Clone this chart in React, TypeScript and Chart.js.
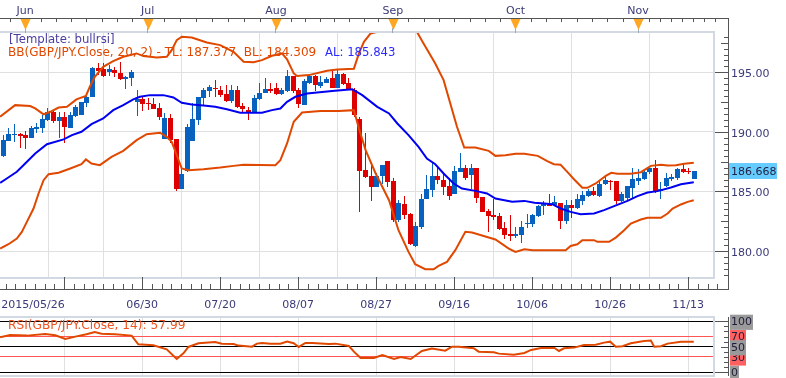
import React, { useEffect, useRef } from "react";
import { Chart, registerables } from "chart.js";

Chart.register(...registerables);

const opens = [187.97,189.25,189.73,189.79,189.73,189.48,190.26,190.29,190.99,191.69,
190.93,191.27,190.37,191.33,191.41,192.45,192.95,195.33,195.25,195.05,
195.19,194.97,194.46,194.55,192.53,192.75,192.45,192.33,192.03,189.42,
191.16,189.39,185.25,186.73,189.25,190.99,192.81,193.45,193.73,193.51,
193.17,192.59,193.51,192.17,191.83,191.61,192.78,193.29,193.59,193.65,
193.17,193.45,194.69,193.51,192.28,194.15,194.69,193.85,194.13,194.49,
193.71,194.85,194.07,193.51,191.05,186.79,186.29,185.39,186.29,187.52,
185.87,182.59,183.99,183.09,180.41,182.03,184.41,185.11,186.29,185.95,
185.45,184.83,186.65,186.93,186.37,186.93,184.55,183.37,183.01,182.93,
181.92,181.41,181.27,181.33,182.25,182.25,182.95,183.77,183.99,183.85,
184.07,182.53,183.85,183.60,184.21,184.61,185.03,184.61,185.61,185.92,
185.87,184.21,184.49,185.33,185.89,186.03,186.65,186.99,185.05,185.47,
186.01,186.15,186.87,186.73,186.03];
const closes = [189.31,189.81,189.81,189.67,189.51,190.29,190.40,191.05,191.69,190.93,
191.27,190.43,191.41,192.11,192.50,192.95,195.36,195.11,194.69,195.25,
194.91,194.46,194.63,195.02,192.75,192.33,192.31,191.91,191.27,191.19,
189.31,185.25,186.45,190.43,191.07,192.92,193.51,193.79,193.57,193.09,
192.59,193.51,192.11,191.94,191.55,192.84,193.31,193.59,193.45,193.20,
193.48,194.69,193.45,192.33,194.27,194.69,193.90,194.18,194.43,193.71,
194.85,194.01,193.57,191.41,186.73,186.23,185.39,186.29,187.21,185.81,
182.59,184.05,183.04,180.55,182.09,184.41,185.19,186.29,185.95,185.39,
184.63,186.71,186.99,186.09,186.93,184.47,183.29,182.95,182.87,181.81,
181.33,181.27,181.41,182.03,182.39,183.01,183.77,183.91,183.77,184.13,
182.53,183.85,183.60,184.33,184.69,185.03,184.69,185.67,185.95,185.84,
184.21,184.77,185.45,186.03,186.09,186.65,186.93,184.97,185.25,186.09,
186.23,186.87,186.65,186.67,186.71];
const highs = [189.73,190.37,190.65,189.87,190.09,190.49,190.77,191.41,191.97,191.83,
191.69,191.69,191.69,192.25,192.50,193.09,195.47,195.81,195.75,195.61,
195.47,195.86,194.69,195.19,193.51,192.95,192.81,192.87,192.45,191.55,
191.49,189.39,186.93,190.65,192.39,192.92,193.65,193.93,194.35,193.85,
193.93,193.93,193.85,192.39,192.11,193.12,194.07,194.52,194.13,194.13,
193.73,195.19,194.69,193.65,194.46,194.77,194.77,194.69,194.57,195.13,
195.19,194.91,194.49,193.65,191.27,189.87,187.49,186.51,187.21,187.52,
186.09,184.27,184.61,183.23,182.42,184.83,186.37,187.35,186.93,186.51,
186.09,187.15,188.19,187.21,187.29,186.93,184.55,183.57,184.41,183.23,
182.45,183.01,182.03,182.53,183.15,183.15,183.85,184.21,184.77,184.61,
184.07,184.27,184.27,184.77,185.03,185.25,185.39,185.87,186.23,185.95,
185.87,184.97,185.47,186.93,186.87,186.79,187.01,187.63,185.81,186.57,
186.45,186.93,187.41,186.93,186.71];
const lows = [187.91,189.25,189.17,188.69,188.55,189.45,189.87,189.87,190.93,190.77,
189.53,189.03,190.37,191.27,191.41,192.11,192.95,194.77,194.63,194.69,
194.57,194.35,193.57,193.85,191.33,191.77,191.83,191.91,190.99,189.37,
189.03,185.05,185.17,186.65,189.25,190.57,192.17,192.95,192.95,192.95,
192.53,192.39,192.05,191.55,190.99,191.61,192.67,193.23,193.29,193.09,
193.09,193.37,193.23,192.05,192.28,194.01,193.45,193.73,194.07,193.65,
193.65,193.93,193.51,191.27,183.29,186.17,184.21,185.39,185.67,185.39,
182.45,182.45,182.65,180.49,180.35,181.83,184.41,184.55,185.67,184.69,
184.27,184.83,186.65,185.95,185.25,184.01,183.29,181.61,182.59,181.75,
180.97,180.83,181.13,180.69,181.95,182.03,182.87,183.01,183.77,183.77,
181.83,182.31,182.79,183.57,183.85,184.55,184.61,184.55,185.53,185.11,
183.93,184.13,184.27,184.41,185.53,185.95,186.45,184.89,184.33,185.39,
185.87,185.95,186.57,186.45,186.03];

const upperIdx = [-0.5,2.2,4.9,5.8,7.3,8.5,10,11.5,13.2,14.9,15.6,16.5,18,19.8,21.6,24,25.2,27.6,29.4,30.3,31.2,32.1,33.9,36.6,39,41.4,43.2,45,46.5,48.3,50.1,51,52.2,52.8,54.9,58.2,60,63,63.9,64.8,66,67.2,69,72,74.3,75.5,77.6,79.1,80.3,81.5,82.8,84.8,87.2,88.4,90.2,92,93.6,96,97.7,98.9,100.1,101.3,102.5,104,104.9,106.4,108.2,109.2,110.3,112.7,114.5,116.3,118.1,119.3,120.8,122.3,124];
const upperVal = [191.27,192.25,192.17,191.97,191.47,191.69,192.05,192.11,192.73,193.03,193.79,194.63,195.47,195.95,196.31,196.59,196.37,196.25,196.31,196.87,197.71,197.99,197.93,197.51,197.29,196.73,195.89,195.86,196.03,196.39,196.59,196.09,194.91,194.69,194.77,195.13,195.25,195.31,196.59,197.57,198.27,198.41,199.3,199.6,198.41,197.43,195.75,194.35,192.39,190.43,188.69,188.69,188.41,187.99,188.05,188.17,188.17,187.99,187.55,187.29,187.24,186.65,186.03,185.31,185.31,185.67,186.31,186.57,186.48,186.48,186.62,187.15,187.24,187.18,187.21,187.32,187.41];

const averageIdx = [-0.5,0.7,2.5,4,5.8,7.9,10.9,12.4,14.1,15.9,18,19.8,21.6,23.4,24.6,26.4,28.8,30.6,32.1,33.9,36,38.1,40.2,42.6,46.5,48.3,49.8,51,52.5,54.6,59.1,62.7,64.5,67.2,69.3,70.8,72.8,74.6,76.1,77.6,79.1,80.9,82.4,84.8,86.9,88.4,91.4,93.6,95.4,97.2,98.6,100.1,101.9,103.7,106.1,107.9,109.7,112.1,113.9,115.7,117.5,119.9,121.7,124];
const averageVal = [185.73,186.09,186.65,187.35,188.19,188.97,189.37,189.73,190.01,190.65,191.13,191.83,192.25,192.73,192.95,193.09,193.09,192.89,192.45,192.31,192.22,192.11,191.91,191.61,191.61,191.83,191.97,192.53,192.95,193.23,193.43,193.59,193.09,192.11,191.55,190.71,189.73,188.75,187.77,187.29,186.51,185.67,185.25,185.05,184.83,184.41,184.13,184.21,184.05,183.99,183.93,183.57,183.29,183.09,183.15,183.43,183.77,184.21,184.61,184.91,185.03,185.33,185.61,185.78];

const lowerIdx = [-0.5,1,2.5,3.4,4.3,5.5,6.4,7.3,8.2,10,12.1,14.1,14.9,15.9,17.4,19.5,21.6,24,25.8,28.2,29.4,30.3,31.2,32.1,33.3,36,39,41.4,43.2,48.9,49.8,51,52.2,53.7,57,60.3,63,63.9,65.1,66.9,68.7,69.3,71,72.8,74,75.8,77.3,78.2,79.7,81.2,83,84.2,87.2,88.4,90.8,92,93.6,95.1,101,101.9,103.1,104,106.1,106.7,108.8,110,111.5,112.7,114.5,115.7,118.1,119.3,120.2,121.7,122.9,124];
const lowerVal = [180.21,180.57,181.05,181.61,182.45,183.57,184.83,185.95,186.45,186.57,186.93,187.29,187.69,187.35,187.21,187.91,188.41,189.31,189.81,189.93,189.59,189.17,188.05,186.93,186.79,186.87,187.01,187.15,187.24,187.21,187.63,189.03,190.85,191.63,191.75,191.75,191.83,190.29,188.47,186.51,184.83,184.27,181.75,179.93,178.89,178.47,178.47,178.75,179.09,180.07,181.61,181.55,181.13,180.97,180.21,179.93,180.15,180.07,180.07,180.43,180.57,180.91,180.91,180.77,180.77,181.13,181.75,182.31,182.65,182.79,182.79,183.15,183.57,183.91,184.13,184.27];

const rsiIdx = [-0.5,1.3,4.3,7.6,9.4,11.2,13,15,16.5,17.7,20.1,23.1,24.3,27,29.4,31.2,32.4,33.3,35.1,38.1,39.3,41.4,42.3,44.7,45.6,46.5,48,49.8,51,52.2,53.1,54.3,55.5,58.5,59.7,62.1,63,64.2,66.6,68.1,70.2,71.4,73.2,75.2,77,79.4,80.6,81.8,84.5,85.4,88.1,89,91.7,93.6,94.8,96.6,99,99.8,100.7,102.5,104.3,106.4,107.9,109,110,111.2,112.7,115.1,116.3,116.9,118.1,119.3,121.7,124];
const rsiVal = [68.6,73.2,71.9,75.2,72.5,65.4,69.9,74.5,79.1,75.8,74.5,71.9,54.9,52.9,45.1,26.1,37.3,49.7,56.9,59.5,56.2,55.6,52.3,50.3,56.2,57.5,56.2,56.2,60.1,56.9,49.7,57.5,57.5,55.6,56.2,51.6,40.5,28.1,28.1,34,26.1,30.1,26.1,41.8,46.4,42.5,50.3,50.3,47.1,40.5,39.2,36.6,34.6,37.9,43.8,47.7,47.7,41.8,47.1,48.4,53.6,54.2,58.2,60.1,50.3,51,56.9,61.4,62.1,50.3,51,56.2,60.1,60.1];

const monthLabels = ["Jun", "Jul", "Aug", "Sep", "Oct", "Nov"];
const monthIdx = [4, 26, 49, 70, 92, 114];
const dateLabels = ["2015/05/26", "06/30", "07/20", "08/07", "08/27", "09/16", "10/06", "10/26", "11/13"];
const dateLabelIdx = [5.4, 25, 39, 53, 67, 81, 95, 109, 123];
const gridIdx = [11, 25, 39, 53, 67, 81, 95, 109, 123];
const priceTicks = [180, 185, 190, 195];
const rsiTicks = [0, 30, 70, 50, 100];
const templateLabel = "[Template: bullrsi]";
const bbLabel = "BB(GBP/JPY.Close, 20, 2) - TL: 187.377  BL: 184.309";
const alLabel = "AL: 185.843";
const rsiLabel = "RSI(GBP/JPY.Close, 14): 57.99";
const lastPrice = "186.668";

const FONT = '"DejaVu Sans"';
const TEXT = "#3A3A78";
const AXIS = "#555555";
const BORDER = "#D2D9E2";
const GRID = "#E0E0E0";
const ORANGE = "#E04800";
const X_MIN = -0.52;
const X_MAX = 127.63;

const xy = (idx: number[], val: number[]) => idx.map((x, i) => ({ x, y: val[i] }));

const noPad = (s: any) => {
  s.paddingLeft = 0;
  s.paddingRight = 0;
  s.paddingTop = 0;
  s.paddingBottom = 0;
};

const snapBars = {
  id: "snapBars",
  afterDatasetsUpdate(chart: any) {
    chart.data.datasets.forEach((d: any, i: number) => {
      if (d.type === "line") return;
      chart.getDatasetMeta(i).data.forEach((el: any) => {
        el.x = Math.round(el.x) + 0.5;
        const a = Math.round(Math.min(el.y, el.base));
        const b = Math.round(Math.max(el.y, el.base));
        el.y = a;
        el.base = b > a ? b : a + 1;
      });
    });
  },
};

const rect = (ctx: any, x: number, y: number, w: number, h: number, c: string) => {
  ctx.fillStyle = c;
  ctx.fillRect(x, y, w, h);
};

const mainFrame = {
  id: "mainFrame",
  afterDraw(chart: any) {
    const { ctx, scales } = chart;
    const x = scales.x;
    const y = scales.y;
    ctx.save();
    rect(ctx, 0, 31, 715, 2, BORDER);
    rect(ctx, 0, 277, 715, 2, BORDER);
    rect(ctx, 713, 31, 2, 248, BORDER);
    rect(ctx, 0, 18, 729, 1, AXIS);
    rect(ctx, 0, 289, 729, 1, AXIS);
    rect(ctx, 728, 18, 1, 272, AXIS);

    // top axis: eight divisions per month
    const monthPx = monthIdx.map((m) => x.getPixelForValue(m));
    const step = (monthPx[1] - monthPx[0]) / 8;
    const topTicks: number[] = [monthPx[0] - step];
    monthPx.forEach((p, i) => {
      const next = i + 1 < monthPx.length ? monthPx[i + 1] : p + 88;
      const s = (next - p) / 8;
      for (let k = 0; k < 8; k++) {
        const v = p + s * k;
        if (v < 726) topTicks.push(v);
      }
    });
    topTicks.forEach((p) => rect(ctx, Math.round(p), 19, 1, 3, AXIS));

    // month arrows
    monthPx.forEach((p) => {
      const c = Math.round(p) + 0.5;
      rect(ctx, Math.floor(p), 28, 1, 5, "#9AA8B8");
      ctx.fillStyle = "#FFA622";
      ctx.beginPath();
      ctx.moveTo(c - 5, 19);
      ctx.lineTo(c + 5, 19);
      ctx.lineTo(c, 30);
      ctx.closePath();
      ctx.fill();
    });

    // bottom axis
    gridIdx.forEach((g) => {
      rect(ctx, Math.round(x.getPixelForValue(g)), 277, 1, 12, AXIS);
      for (let k = 1; k < 8; k++) {
        const v = g + 1.75 * k;
        if (v < 128.5) rect(ctx, Math.round(x.getPixelForValue(v)), 284, 1, 5, AXIS);
      }
    });
    for (let k = 1; k < 8; k++) {
      rect(ctx, Math.round(x.getPixelForValue(11 - 1.75 * k)), 284, 1, 5, AXIS);
    }

    // right axis: half units, medium at 2.5
    for (let t = 178; t <= 198; t += 0.5) {
      const py = Math.round(y.getPixelForValue(t));
      if (t % 5 === 0) rect(ctx, 715, py, 13, 1, AXIS);
      else if (t % 2.5 === 0) rect(ctx, 721, py, 7, 1, AXIS);
      else rect(ctx, 724, py, 4, 1, AXIS);
    }

    // current price
    const py = y.getPixelForValue(Number(lastPrice));
    rect(ctx, 729, Math.round(py) - 9, 48, 16, "#66CCFF");
    ctx.font = `11px ${FONT}`;
    ctx.textBaseline = "middle";
    ctx.textAlign = "left";
    ctx.fillStyle = "#222244";
    ctx.fillText(lastPrice, 731, Math.round(py) + 0);

    // legend
    ctx.textBaseline = "alphabetic";
    ctx.font = `11.7px ${FONT}`;
    ctx.fillStyle = "#4A3FA0";
    ctx.fillText(templateLabel, 9, 43);
    ctx.font = `12px ${FONT}`;
    ctx.fillStyle = ORANGE;
    ctx.fillText(bbLabel, 8, 56);
    ctx.fillStyle = "#2A2AFF";
    ctx.font = `11.7px ${FONT}`;
    ctx.fillText(alLabel, 325, 56);
    ctx.restore();
  },
};

const rsiFrame = {
  id: "rsiFrame",
  afterDraw(chart: any) {
    const { ctx, scales } = chart;
    const y = scales.y;
    const top = chart.chartArea.top;
    const bottom = chart.chartArea.bottom;
    ctx.save();
    rect(ctx, 0, top - 1, 715, 2, BORDER);
    rect(ctx, 0, bottom - 1, 715, 2, BORDER);
    rect(ctx, 713, top - 1, 2, bottom - top + 2, BORDER);
    rect(ctx, 728, top, 1, bottom - top, AXIS);
    for (let t = 0; t <= 100; t += 10) {
      const py = Math.round(y.getPixelForValue(t));
      if (t === 0 || t === 100) rect(ctx, 715, py, 13, 1, AXIS);
      else if (t === 50) rect(ctx, 721, py, 7, 1, AXIS);
      else rect(ctx, 724, py, 4, 1, AXIS);
    }
    ctx.font = `12.2px ${FONT}`;
    ctx.textBaseline = "alphabetic";
    ctx.textAlign = "left";
    ctx.fillStyle = "#EE5522";
    ctx.fillText(rsiLabel, 8, 16);
    ctx.restore();
  },
};

export default function App() {
  const mainRef = useRef<HTMLCanvasElement>(null);
  const rsiRef = useRef<HTMLCanvasElement>(null);

  useEffect(() => {
    const indices = opens.map((_, i) => i);
    const color = (i: number) => (closes[i] >= opens[i] ? "#0662BE" : "#DE0000");
    const barCommon = {
      type: "bar",
      grouped: false,
      borderWidth: 0,
      inflateAmount: 0,
      xAxisID: "x",
      yAxisID: "y",
    };
    const lineCommon = {
      type: "line",
      pointRadius: 0,
      tension: 0,
      fill: false,
      xAxisID: "x",
      yAxisID: "y",
    };
    const main = new Chart(mainRef.current as any, {
      type: "bar",
      plugins: [snapBars, mainFrame],
      data: {
        datasets: [
          { ...lineCommon, label: "AL", order: 0, data: xy(averageIdx, averageVal), borderColor: "#0000F0", borderWidth: 2 },
          { ...lineCommon, label: "TL", order: 0, data: xy(upperIdx, upperVal), borderColor: ORANGE, borderWidth: 2 },
          { ...lineCommon, label: "BL", order: 0, data: xy(lowerIdx, lowerVal), borderColor: ORANGE, borderWidth: 2 },
          {
            ...barCommon, label: "Body", order: 1, barThickness: 5,
            data: indices.map((i) => ({ x: i, y: [opens[i], closes[i]] })),
            backgroundColor: indices.map(color),
          },
          {
            ...barCommon, label: "Wick", order: 2, barThickness: 1,
            data: indices.map((i) => ({ x: i, y: [lows[i], highs[i]] })),
            backgroundColor: indices.map(color),
          },
        ] as any,
      },
      options: {
        responsive: false,
        animation: false,
        layout: { padding: 0 },
        plugins: { legend: { display: false }, tooltip: { enabled: false } },
        scales: {
          x: {
            type: "linear",
            position: "bottom",
            min: X_MIN,
            max: X_MAX,
            offset: false,
            afterBuildTicks: (s: any) => {
              s.ticks = [...dateLabelIdx, 11].sort((a, b) => a - b).map((value) => ({ value }));
            },
            afterFit: (s: any) => {
              s.height = 36;
              noPad(s);
            },
            border: { display: false },
            grid: {
              drawTicks: false,
              lineWidth: 1,
              color: (c: any) => (gridIdx.includes(c.tick?.value) ? GRID : "rgba(0,0,0,0)"),
            },
            ticks: {
              autoSkip: false,
              maxRotation: 0,
              minRotation: 0,
              padding: 22,
              color: TEXT,
              font: { family: FONT, size: 11 },
              callback: (v: any) => {
                const k = dateLabelIdx.indexOf(Number(v));
                return k >= 0 ? dateLabels[k] : "";
              },
            },
          },
          xTop: {
            type: "linear",
            position: "top",
            min: X_MIN,
            max: X_MAX,
            offset: false,
            afterBuildTicks: (s: any) => {
              s.ticks = monthIdx.map((value) => ({ value }));
            },
            afterFit: (s: any) => {
              s.height = 32;
              noPad(s);
            },
            border: { display: false },
            grid: { display: false, drawTicks: false },
            ticks: {
              autoSkip: false,
              maxRotation: 0,
              minRotation: 0,
              padding: 14,
              color: TEXT,
              font: { family: FONT, size: 11 },
              callback: (v: any) => monthLabels[monthIdx.indexOf(Number(v))] ?? "",
            },
          },
          y: {
            type: "linear",
            position: "right",
            min: 177.82,
            max: 198.39,
            afterBuildTicks: (s: any) => {
              s.ticks = priceTicks.map((value) => ({ value }));
            },
            afterFit: (s: any) => {
              s.width = 72;
              noPad(s);
            },
            border: { display: false },
            grid: { drawTicks: false, color: GRID, lineWidth: 1 },
            ticks: {
              autoSkip: false,
              padding: 17,
              labelOffset: 2,
              color: TEXT,
              font: { family: FONT, size: 11 },
              callback: (v: any) => Number(v).toFixed(2),
            },
          },
        },
      } as any,
    });

    const isLine70 = (v: number) => v === 70 || v === 30;
    const rsi = new Chart(rsiRef.current as any, {
      type: "line",
      plugins: [rsiFrame],
      data: {
        datasets: [
          {
            label: "RSI",
            data: xy(rsiIdx, rsiVal),
            borderColor: ORANGE,
            borderWidth: 2,
            pointRadius: 0,
            tension: 0,
            fill: false,
          },
        ] as any,
      },
      options: {
        responsive: false,
        animation: false,
        layout: { padding: { top: 4, bottom: 2 } },
        plugins: { legend: { display: false }, tooltip: { enabled: false } },
        scales: {
          x: {
            type: "linear",
            min: X_MIN,
            max: X_MAX,
            afterBuildTicks: (s: any) => {
              s.ticks = gridIdx.map((value) => ({ value }));
            },
            afterFit: (s: any) => {
              s.height = 0;
              noPad(s);
            },
            border: { display: false },
            grid: { drawTicks: false, color: GRID, lineWidth: 1 },
            ticks: { display: false },
          },
          y: {
            type: "linear",
            position: "right",
            min: -7.25,
            max: 108.4,
            afterBuildTicks: (s: any) => {
              s.ticks = rsiTicks.map((value) => ({ value }));
            },
            afterFit: (s: any) => {
              s.width = 72;
              noPad(s);
            },
            border: { display: false },
            grid: {
              drawTicks: false,
              lineWidth: 1,
              color: (c: any) => (isLine70(c.tick?.value) ? "#FF5555" : "#000000"),
            },
            ticks: {
              autoSkip: false,
              padding: 17,
              labelOffset: 1,
              color: "#1E1E3C",
              font: { family: FONT, size: 11 },
              showLabelBackdrop: true,
              backdropPadding: 1,
              backdropColor: (c: any) => (isLine70(c.tick?.value) ? "#FF6060" : "#9A9A9A"),
              callback: (v: any) => String(v),
            },
          },
        },
      } as any,
    });

    return () => {
      main.destroy();
      rsi.destroy();
    };
  }, []);

  return (
    <div style={{ position: "fixed", left: 0, top: 0, width: 786, height: 378, background: "#fff", overflow: "hidden" }}>
      <canvas ref={mainRef} width={786} height={313} style={{ position: "absolute", left: 0, top: 0, display: "block" }} />
      <canvas ref={rsiRef} width={786} height={65} style={{ position: "absolute", left: 0, top: 313, display: "block" }} />
    </div>
  );
}
